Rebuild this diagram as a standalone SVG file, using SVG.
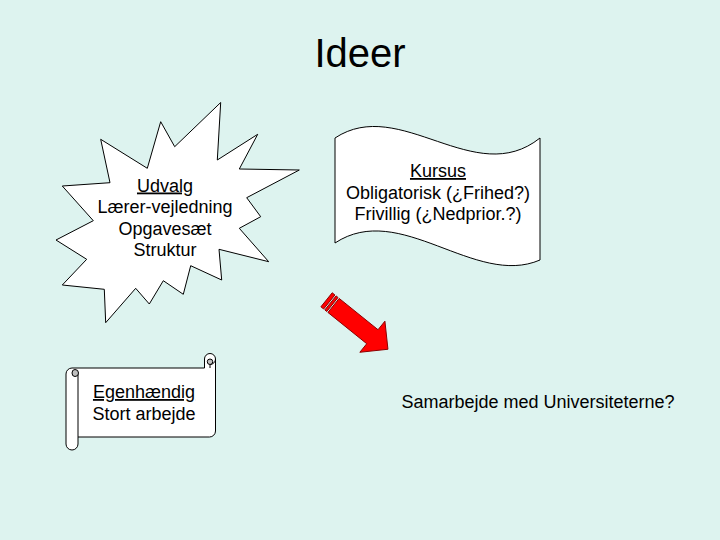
<svg xmlns="http://www.w3.org/2000/svg" width="720" height="540" viewBox="0 0 720 540">
<style>
.shape{fill:#FFFFFF;stroke:#000000;stroke-width:1;stroke-linejoin:miter}
.t{font-family:"Liberation Sans",Arial,sans-serif;font-size:18px;fill:#000000;text-anchor:middle}
.u{text-decoration:underline}
.title{font-family:"Liberation Sans",Arial,sans-serif;font-size:40px;fill:#000000;text-anchor:middle}
.arrow{fill:#FF0000;stroke:#8B0000;stroke-width:1;stroke-linejoin:miter}
.curl{fill:#C0C0C0;stroke:#000000;stroke-width:1}
</style>
<rect x="0" y="0" width="720" height="540" fill="#DDF3EF"/>
<text class="title" x="360" y="66.5">Ideer</text>
<g id="star-udvalg">
<polygon class="shape" points="220.7,102.5 217.3,160 257.7,134.3 239.3,169 299.3,170 246.7,197.7 260.7,216.7 239.3,228.3 268.7,261.7 219,249.3 221.7,280 190.7,265.7 183.3,294.3 163.3,280.7 149.3,304 135.7,288.3 105.7,322.7 104.3,289.3 62.3,285 86.7,259.3 56,240 93.3,220.7 62.3,186 110,182.7 100.7,139.3 147.3,168.3 160.7,121.7 174.7,146.7"/>
<text class="t u" x="165" y="191.5">Udvalg</text>
<text class="t" x="165" y="213">Lærer-vejledning</text>
<text class="t" x="165" y="234.5">Opgavesæt</text>
<text class="t" x="165" y="256">Struktur</text>
</g>
<g id="wave-kursus">
<path class="shape" d="M335,138 C400,95 475,190 540,138 V260 C475,288 400,200 335,243 Z"/>
<text class="t u" x="438" y="177">Kursus</text>
<text class="t" x="438" y="198.5">Obligatorisk (¿Frihed?)</text>
<text class="t" x="438" y="220">Frivillig (¿Nedprior.?)</text>
</g>
<g id="scroll-egenhaendig">
<path class="shape" d="M66,374 A6,6 0 0 1 72,368 H204.5 V359 A5.5,5.5 0 0 1 215.5,359 V431 A6,6 0 0 1 209.5,437 H78 V444 A6,6 0 0 1 66,444 Z"/>
<path fill="none" stroke="#000" stroke-width="1" d="M78,374 V437"/>
<path class="curl" d="M75,369.5 A3.5,3.5 0 0 1 75,376.5 A3,3.5 0 0 1 75,369.5 Z"/>
<path fill="none" stroke="#000" stroke-width="1" d="M215.5,359 A5.5,5.5 0 0 1 210,364.5 V368"/>
<path class="curl" d="M210,359 A2.75,2.75 0 0 0 210,364.5 A2.75,2.75 0 0 0 210,359 Z"/>
<text class="t u" x="144" y="398">Egenhændig</text>
<text class="t" x="144" y="419.5">Stort arbejde</text>
</g>
<g id="striped-arrow">
<polygon class="arrow" points="332.19,292.79 334.92,294.98 323.64,308.98 320.91,306.79"/>
<polygon class="arrow" points="336.08,295.92 338.03,297.49 326.75,311.49 324.8,309.92"/>
<polygon class="arrow" points="339.19,298.43 378.02,329.72 384.92,321.16 387.94,349.26 359.84,352.28 366.74,343.72 327.91,312.43"/>
</g>
<g id="text-samarbejde">
<text class="t" x="538" y="408">Samarbejde med Universiteterne?</text>
</g>
<g id="connectors"></g>
</svg>
